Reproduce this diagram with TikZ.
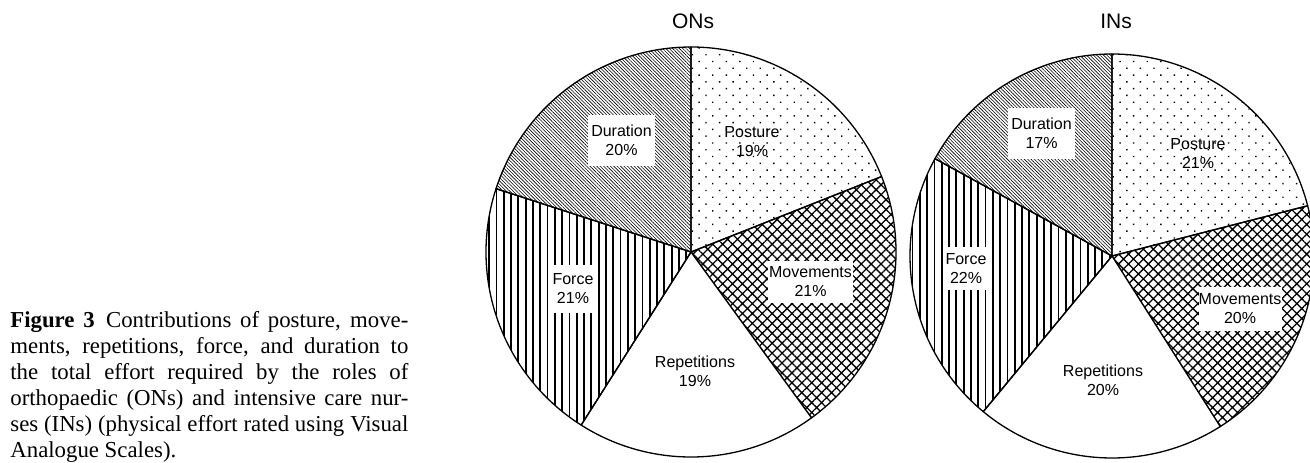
\documentclass[tikz,border=0pt]{standalone}
\usepackage{fontspec}
\setmainfont{Liberation Serif}
\newfontfamily\piefont{Liberation Sans}
\usetikzlibrary{patterns.meta}
\begin{document}
\begin{tikzpicture}[x=0.5pt,y=0.5pt,
  sector/.style={draw=black, line width=0.65pt, line join=round},
  postpat/.style={pattern={Dots[angle=45, distance=4.8pt, radius=0.5pt]}},
  movpat/.style={pattern={Hatch[angle=45, distance=3.5pt, line width=0.65pt]}},
  forpat/.style={pattern={Lines[angle=90, distance=3.65pt, line width=0.9pt]}},
  durpat/.style={pattern={Lines[angle=-45, distance=1.2pt, line width=0.3pt]}},
  lbl/.style={font=\piefont\fontsize{8}{9.5}\selectfont, align=center, inner sep=0pt},
  lblbox/.style={lbl, fill=white},
  ttl/.style={font=\piefont\fontsize{10.5}{12}\selectfont, inner sep=0pt},
  captxt/.style={anchor=north west, inner sep=0pt, text width=199pt, align=justify,
    font=\fontsize{11.4}{13}\selectfont}
]
\useasboundingbox (0,0) rectangle (1310,462);

% ---------- ONs pie ----------
\coordinate (c1) at (691,210);
\def\ra{102.5pt}
\draw[sector, postpat] (c1) -- ++(90:\ra) arc[start angle=90, end angle=21.6, radius=\ra] -- cycle;
\draw[sector, movpat] (c1) -- ++(21.6:\ra) arc[start angle=21.6, end angle=-54, radius=\ra] -- cycle;
\draw[sector, fill=white] (c1) -- ++(-54:\ra) arc[start angle=-54, end angle=-122.4, radius=\ra] -- cycle;
\draw[sector, forpat] (c1) -- ++(-122.4:\ra) arc[start angle=-122.4, end angle=-198, radius=\ra] -- cycle;
\draw[sector, durpat] (c1) -- ++(162:\ra) arc[start angle=162, end angle=90, radius=\ra] -- cycle;

\node[lblbox, minimum width=33.5pt, minimum height=25.5pt] (on-dur) at (621.5,321.5) {Duration\\20\%};
\node[lbl] (on-pos) at (752,320) {Posture\\19\%};
\node[lblbox, minimum width=42.5pt, minimum height=21pt] (on-mov) at (810.5,180) {Movements\\21\%};
\node[lblbox, minimum width=20pt, minimum height=24pt] (on-for) at (573,173) {Force\\21\%};
\node[lbl] (on-rep) at (695,91) {Repetitions\\19\%};
\node[ttl] (t-on) at (693,440.5) {ONs};

% ---------- INs pie ----------
\coordinate (c2) at (1112,206);
\def\rb{101pt}
\draw[sector, postpat] (c2) -- ++(90:\rb) arc[start angle=90, end angle=14.4, radius=\rb] -- cycle;
\draw[sector, movpat] (c2) -- ++(14.4:\rb) arc[start angle=14.4, end angle=-57.6, radius=\rb] -- cycle;
\draw[sector, fill=white] (c2) -- ++(-57.6:\rb) arc[start angle=-57.6, end angle=-129.6, radius=\rb] -- cycle;
\draw[sector, forpat] (c2) -- ++(-129.6:\rb) arc[start angle=-129.6, end angle=-208.8, radius=\rb] -- cycle;
\draw[sector, durpat] (c2) -- ++(151.2:\rb) arc[start angle=151.2, end angle=90, radius=\rb] -- cycle;

\node[lblbox, minimum width=33.5pt, minimum height=25.5pt] (in-dur) at (1041.5,328.5) {Duration\\17\%};
\node[lbl] (in-pos) at (1198,308) {Posture\\21\%};
\node[lblbox, minimum width=21pt, minimum height=21.5pt] (in-for) at (966,193.5) {Force\\22\%};
\node[lblbox, minimum width=41.5pt, minimum height=22pt] (in-mov) at (1240,153) {Movements\\20\%};
\node[lbl] (in-rep) at (1103,82) {Repetitions\\20\%};
\node[ttl] (t-in) at (1116,440.5) {INs};

% ---------- caption ----------
\node[captxt] (cap) at (10,151) {\textbf{Figure 3}\enspace Contributions of posture, move-\linebreak
ments, repetitions, force, and duration to\linebreak
the total effort required by the roles of\linebreak
orthopaedic (ONs) and intensive care nur-\linebreak
ses (INs) (physical effort rated using Visual\linebreak
Analogue Scales).};
\end{tikzpicture}
\end{document}
